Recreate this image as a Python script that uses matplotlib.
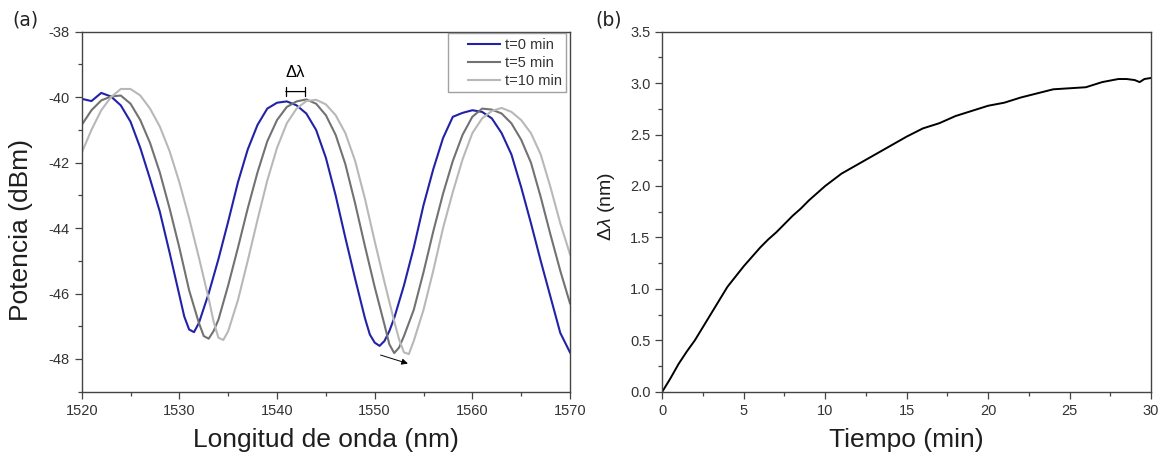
import matplotlib
matplotlib.use("Agg")
import matplotlib.pyplot as plt
from matplotlib.ticker import MultipleLocator
from matplotlib.lines import Line2D
from matplotlib.legend_handler import HandlerLine2D

plt.rcParams['font.family'] = ['Liberation Sans', 'DejaVu Sans']
plt.rcParams['axes.unicode_minus'] = False
plt.rcParams['mathtext.fontset'] = 'custom'
plt.rcParams['mathtext.rm'] = 'Liberation Sans'
plt.rcParams['mathtext.it'] = 'Liberation Sans:italic'

# --- datos (a): espectros de transmisión ---
wl_t0 = [1520, 1521, 1522, 1523, 1524, 1525, 1526, 1527, 1528, 1529, 1530, 1530.5,
         1531, 1531.5, 1532, 1533, 1534, 1535, 1536, 1537, 1538, 1539, 1540, 1541,
         1542, 1543, 1544, 1545, 1546, 1547, 1548, 1549, 1549.5, 1550, 1550.5, 1551,
         1551.5, 1552, 1553, 1554, 1555, 1556, 1557, 1558, 1559, 1560, 1561, 1562,
         1563, 1564, 1565, 1566, 1567, 1568, 1569, 1570]
p_t0 = [-40.05, -40.12, -39.87, -39.98, -40.25, -40.75, -41.55, -42.5, -43.5, -44.75,
        -46.05, -46.7, -47.1, -47.18, -46.9, -46.0, -44.95, -43.8, -42.6, -41.6,
        -40.85, -40.35, -40.17, -40.13, -40.25, -40.5, -41.0, -41.85, -43.0, -44.3,
        -45.55, -46.75, -47.25, -47.5, -47.6, -47.45, -47.15, -46.75, -45.75, -44.6,
        -43.3, -42.2, -41.25, -40.6, -40.48, -40.4, -40.45, -40.65, -41.1, -41.75,
        -42.75, -43.85, -45.0, -46.1, -47.2, -47.8]

wl_t5 = [1520, 1521, 1522, 1523, 1524, 1525, 1526, 1527, 1528, 1529, 1530, 1531,
         1532, 1532.5, 1533, 1533.5, 1534, 1535, 1536, 1537, 1538, 1539, 1540, 1541,
         1542, 1543, 1544, 1545, 1546, 1547, 1548, 1549, 1550, 1551, 1551.5, 1552,
         1552.5, 1553, 1554, 1555, 1556, 1557, 1558, 1559, 1560, 1561, 1562, 1563,
         1564, 1565, 1566, 1567, 1568, 1569, 1570]
p_t5 = [-40.85, -40.4, -40.1, -39.98, -39.95, -40.2, -40.7, -41.4, -42.3, -43.4,
        -44.6, -45.9, -46.9, -47.3, -47.38, -47.15, -46.8, -45.75, -44.6, -43.4,
        -42.3, -41.35, -40.7, -40.3, -40.13, -40.07, -40.2, -40.55, -41.15, -42.05,
        -43.25, -44.55, -45.8, -46.95, -47.55, -47.82, -47.65, -47.3, -46.5, -45.35,
        -44.1, -42.95, -41.95, -41.15, -40.6, -40.35, -40.38, -40.5, -40.8, -41.3,
        -42.0, -43.05, -44.2, -45.3, -46.3]

wl_t10 = [1520, 1521, 1522, 1523, 1524, 1525, 1526, 1527, 1528, 1529, 1530, 1531,
          1532, 1533, 1533.5, 1534, 1534.5, 1535, 1536, 1537, 1538, 1539, 1540, 1541,
          1542, 1543, 1544, 1545, 1546, 1547, 1548, 1549, 1550, 1551, 1552, 1552.5,
          1553, 1553.5, 1554, 1555, 1556, 1557, 1558, 1559, 1560, 1561, 1562, 1563,
          1564, 1565, 1566, 1567, 1568, 1569, 1570]
p_t10 = [-41.7, -41.0, -40.4, -40.0, -39.75, -39.75, -39.95, -40.35, -40.9, -41.65,
         -42.6, -43.7, -44.9, -46.15, -46.85, -47.35, -47.42, -47.15, -46.2, -45.0,
         -43.75, -42.55, -41.55, -40.8, -40.35, -40.12, -40.08, -40.22, -40.55, -41.1,
         -41.95, -43.1, -44.4, -45.65, -46.85, -47.4, -47.8, -47.85, -47.45, -46.5,
         -45.3, -44.0, -42.9, -41.9, -41.1, -40.65, -40.42, -40.33, -40.45, -40.7,
         -41.1, -41.75, -42.75, -43.85, -44.8]

series_labels = ['t=0 min', 't=5 min', 't=10 min']
series_colors = ['#2222a8', '#727272', '#b8b8b8']

# --- datos (b): corrimiento vs tiempo ---
tiempo = [0, 0.5, 1, 1.5, 2, 2.5, 3, 3.5, 4, 4.5, 5, 5.5, 6, 6.5, 7, 7.5, 8, 8.5,
          9, 9.5, 10, 11, 12, 13, 14, 15, 16, 17, 18, 19, 20, 21, 22, 23, 24, 25,
          26, 27, 28, 28.5, 29, 29.3, 29.6, 30]
delta_lambda = [0.0, 0.13, 0.27, 0.39, 0.5, 0.63, 0.76, 0.89, 1.02, 1.12, 1.22, 1.31,
                1.40, 1.48, 1.55, 1.63, 1.71, 1.78, 1.86, 1.93, 2.0, 2.12, 2.21, 2.30,
                2.39, 2.48, 2.56, 2.61, 2.68, 2.73, 2.78, 2.81, 2.86, 2.90, 2.94, 2.95,
                2.96, 3.01, 3.04, 3.04, 3.03, 3.01, 3.04, 3.05]

W, H = 1165, 454
fig = plt.figure(figsize=(W / 100, H / 100), dpi=100)
ax1 = fig.add_axes([81.7 / W, 1 - 391.7 / H, (570 - 81.7) / W, 360 / H])
ax2 = fig.add_axes([662.3 / W, 1 - 391.7 / H, (1151 - 662.3) / W, 360 / H])

tick_color = '#333333'
label_color = '#1e1e1e'


def style_axes(ax):
    for s in ax.spines.values():
        s.set_color('#444444')
        s.set_linewidth(1.0)
    ax.tick_params(which='both', direction='out', colors='#444444',
                   labelcolor=tick_color, labelsize=10.5, pad=3.5)
    ax.tick_params(which='major', length=5, width=0.9)
    ax.tick_params(which='minor', length=2.8, width=0.9)


# (a)
for wl, p, lab, c in zip([wl_t0, wl_t5, wl_t10], [p_t0, p_t5, p_t10],
                         series_labels, series_colors):
    ax1.plot(wl, p, color=c, lw=1.5, label=lab)
ax1.set_xlim(1520, 1570)
ax1.set_ylim(-49, -38)
ax1.xaxis.set_major_locator(MultipleLocator(10))
ax1.xaxis.set_minor_locator(MultipleLocator(5))
ax1.yaxis.set_minor_locator(MultipleLocator(1))
ax1.set_yticks([-48, -46, -44, -42, -40, -38])
style_axes(ax1)
ax1.set_xlabel('Longitud de onda (nm)', fontsize=19, color=label_color)
ax1.set_ylabel('Potencia (dBm)', fontsize=19, color=label_color)
ax1.xaxis.set_label_coords(0.5, -0.10)
ax1.yaxis.set_label_coords(-0.10, 0.45)

leg = ax1.legend(loc='upper right', bbox_to_anchor=(566 / W, 1 - 33.3 / H),
                 bbox_transform=fig.transFigure, borderaxespad=0, fontsize=10.5,
                 frameon=True, fancybox=False, edgecolor='#8a8a8a',
                 handlelength=3.3, handletextpad=0.3, labelspacing=0.28,
                 borderpad=0.3,
                 handler_map={Line2D: HandlerLine2D(xpad=1.1)})
leg.get_frame().set_linewidth(1.0)
for t in leg.get_texts():
    t.set_color(tick_color)

# marca de Δλ entre picos
ax1.annotate('', xy=(1540.9, -39.83), xytext=(1542.9, -39.83),
             arrowprops=dict(arrowstyle='|-|, widthA=0.35, widthB=0.35',
                             color='black', lw=0.9, shrinkA=0, shrinkB=0))
ax1.text(1541.9, -39.25, 'Δλ', ha='center', va='center', fontsize=12, color='black')
# flecha de desplazamiento
ax1.annotate('', xy=(1553.4, -48.14), xytext=(1550.6, -47.88),
             arrowprops=dict(arrowstyle='-|>', color='black', lw=0.7,
                             mutation_scale=9, shrinkA=0, shrinkB=0))

# (b)
ax2.plot(tiempo, delta_lambda, color='black', lw=1.4)
ax2.set_xlim(0, 30)
ax2.set_ylim(0, 3.5)
ax2.xaxis.set_major_locator(MultipleLocator(5))
ax2.xaxis.set_minor_locator(MultipleLocator(2.5))
ax2.yaxis.set_major_locator(MultipleLocator(0.5))
ax2.yaxis.set_minor_locator(MultipleLocator(0.25))
style_axes(ax2)
ax2.set_xlabel('Tiempo (min)', fontsize=19, color=label_color)
ax2.set_ylabel(r'$\mathit{\Delta\lambda}$ (nm)', fontsize=14, color=label_color)
ax2.xaxis.set_label_coords(0.5, -0.10)
ax2.yaxis.set_label_coords(-0.092, 0.513)

fig.text(12 / W, 1 - 20 / H, '(a)', fontsize=13.5, ha='left', va='center',
         family='DejaVu Sans', color='#222222')
fig.text(595 / W, 1 - 20 / H, '(b)', fontsize=13.5, ha='left', va='center',
         family='DejaVu Sans', color='#222222')

fig.savefig('out.png', dpi=100)
